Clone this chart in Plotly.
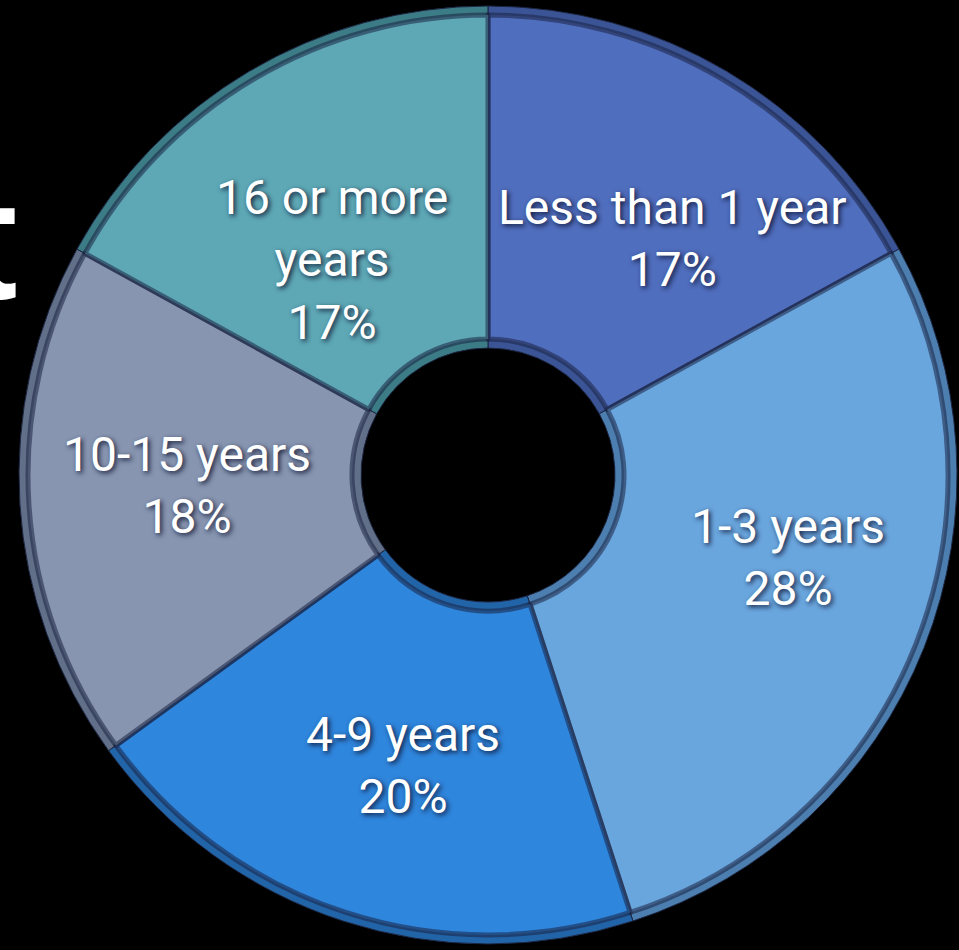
import plotly.graph_objects as go

labels = ["Less than 1 year", "1-3 years", "4-9 years", "10-15 years", "16 or more years"]
values = [17, 28, 20, 18, 17]
label_text = ["Less than 1 year", "1-3 years", "4-9 years", "10-15 years", "16 or more<br>years"]
colors = ["#506EBE", "#6AA6DE", "#2F86DD", "#8795B0", "#5EA8B5"]
rim_colors = ["#3A5496", "#4C7FB0", "#2264A8", "#626F88", "#3C7C86"]

W, H = 959, 950
cx, cy, R = 488, 475, 469
R_HOLE = 127
BEVEL = 9

# label centre positions in pixels (text placement only)
label_pos = [(672, 238), (788, 557), (403, 765), (187, 485), (332, 260)]


def dom(r):
    return dict(x=[(cx - r) / W, (cx + r) / W], y=[1 - (cy + r) / H, 1 - (cy - r) / H])


fig = go.Figure()
# darker rim (bevel shadow)
fig.add_trace(go.Pie(
    labels=labels, values=values, sort=False, direction="clockwise",
    hole=R_HOLE / R,
    marker=dict(colors=rim_colors, line=dict(color="#1c2540", width=1)),
    textinfo="none", hoverinfo="skip", domain=dom(R), showlegend=False,
))
# main face
r2 = R - BEVEL
fig.add_trace(go.Pie(
    labels=labels, values=values, sort=False, direction="clockwise",
    hole=(R_HOLE + BEVEL) / r2,
    marker=dict(colors=colors, line=dict(color="rgba(25,35,65,0.55)", width=5)),
    textinfo="none", hoverinfo="label+percent", domain=dom(r2), showlegend=False,
))

total = sum(values)
for lt, v, (px, py) in zip(label_text, values, label_pos):
    fig.add_annotation(
        x=px / W, y=1 - py / H, xref="paper", yref="paper",
        text=f"{lt}<br>{round(100 * v / total)}%", showarrow=False,
        font=dict(family="Roboto, Liberation Sans, sans-serif", size=48, color="white",
                  shadow="2px 2px 5px rgba(10,15,45,0.9)"),
        align="center", xanchor="center", yanchor="middle",
    )

# partially visible title glyph at left edge (cut off in the reference too)
fig.add_annotation(
    x=20 / W, y=1 - 240 / H, xref="paper", yref="paper", text="<b>t</b>", showarrow=False,
    font=dict(family="Liberation Sans, Arial, sans-serif", size=170, color="white"),
    xanchor="right", yanchor="middle",
)

fig.update_layout(
    width=W, height=H, margin=dict(l=0, r=0, t=0, b=0),
    paper_bgcolor="black", plot_bgcolor="black",
)
fig.write_html("out.html", config={"displayModeBar": False},
               post_script="document.body.style.margin='0';document.body.style.background='black';")
